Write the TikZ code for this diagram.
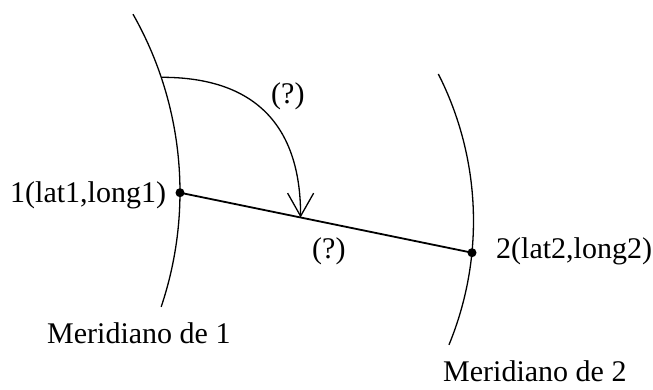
\documentclass[tikz,border=0pt]{standalone}
\usepackage{fontspec}
\setmainfont{Liberation Serif}
\usetikzlibrary{arrows.meta,calc}
\begin{document}
\begin{tikzpicture}[x=1pt,y=-1pt,
  meridian/.style={line width=1.3pt},
  joinline/.style={line width=1.8pt},
  pointdot/.style={circle,fill=black,inner sep=0pt,minimum size=9pt},
  lbl/.style={inner sep=0pt,anchor=base west,font=\fontsize{30}{31}\selectfont},
  turnarrow/.style={line width=1.3pt,-{Straight Barb[length=23pt,width=26pt,line width=1.3pt]}}]
\useasboundingbox (0,0) rectangle (653,389);
% meridians
\draw[meridian] (-180,192) ++(-29.6:360) arc[start angle=-29.6,end angle=18.6,radius=360];
\draw[meridian] (148.5,221) ++(-26.9:325) arc[start angle=-26.9,end angle=22.4,radius=325];
% points
\node[pointdot] (p1) at (180,192.7) {};
\node[pointdot] (p2) at (472,252.7) {};
\draw[joinline] (p1.center) -- (p2.center);
% turning arc
\coordinate (a0) at (162,77.3);
\coordinate (a1) at ($(p1.center)!0.413!(p2.center)$);
\draw[turnarrow] (a0) .. controls (254,77.3) and (300.7,124.7) .. (a1);
% labels
\node[lbl] (l1) at (10,202) {1(lat1,long1)};
\node[lbl] (l2) at (496,258) {2(lat2,long2)};
\node[lbl] (q1) at (271,103) {(?)};
\node[lbl] (q2) at (312,258) {(?)};
\node[lbl] (m1) at (47,343) {Meridiano de 1};
\node[lbl] (m2) at (443,381) {Meridiano de 2};
\end{tikzpicture}
\end{document}
